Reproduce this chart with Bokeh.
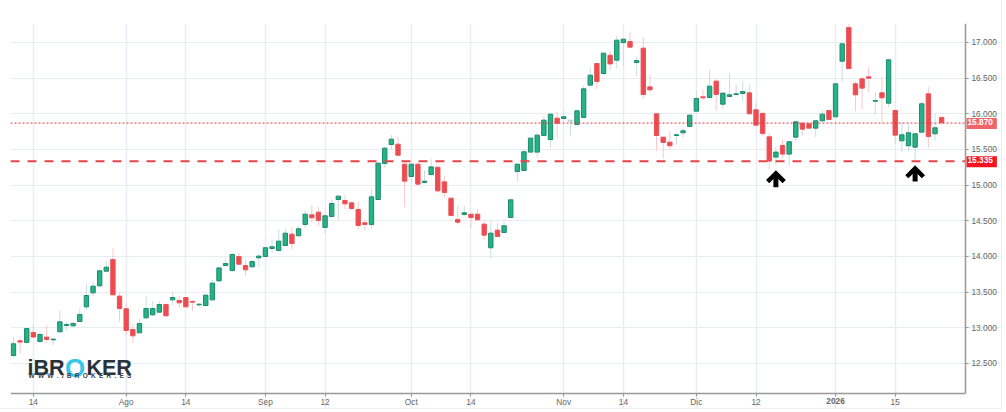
from bokeh.plotting import figure
from bokeh.models import FixedTicker, Range1d, Label
from bokeh.embed import file_html
from bokeh.resources import INLINE

opens = [12612,12818,12795,12935,12808,12870,12832,12944,13033,13028,13089,13294,13490,13588,13794,13957,13444,13266,12977,12930,
 13140,13182,13219,13327,13392,13383,13425,13369,13322,13313,13392,13658,13873,13803,13999,13873,13855,13981,14000,14112,
 14084,14154,14313,14290,14449,14584,14621,14407,14561,14799,14785,14752,14659,14472,14449,14799,15303,15570,15574,15294,
 15121,15294,15037,15149,15252,15046,14818,14519,14589,14593,14593,14453,14122,14369,14337,14547,15191,15206,15463,15463,
 15696,15640,15939,15935,15893,15851,15949,16402,16705,16565,16822,16752,16999,17013,16719,16920,16378,16000,15673,15603,
 15696,15734,15823,16037,16238,16229,16458,16135,16243,16271,16285,16294,16056,16005,15678,15393,15556,15435,15673,15869,
 15860,15799,15902,16047,15958,16738,17209,16420,16490,16518,16177,16294,16149,16047,15622,15552,15533,15743,16280,15720,15949]
highs = [12870,12860,12990,13047,12940,13037,12850,13247,13084,13084,13270,13621,13654,13818,13934,14111,13490,13345,13056,13130,
 13444,13373,13373,13350,13490,13444,13425,13392,13350,13458,13677,13840,13981,14050,14050,13953,13953,14030,14136,14243,
 14374,14393,14407,14430,14654,14724,14700,14603,14803,14846,14864,14762,14766,14523,14943,15308,15537,15705,15681,15317,
 15317,15317,15210,15364,15252,15130,14818,14710,14710,14593,14663,14500,14500,14467,14509,14794,15294,15505,15659,15738,
 15972,15995,16028,16033,15911,16042,16392,16649,16705,16850,16883,17093,17046,17153,16799,17069,16546,16000,15673,15762,
 15738,15808,15981,16322,16346,16612,16490,16290,16570,16406,16453,16406,16154,16023,15734,15547,15640,15622,15902,15883,
 15883,15902,16047,16047,16420,17004,17260,16453,16514,16654,16303,16514,16757,16047,15883,15860,15720,16177,16374,16000,15958]
lows = [12590,12640,12795,12860,12800,12790,12757,12944,12963,13010,13089,13247,13444,13570,13785,13462,13084,12897,12790,12930,
 13140,13159,13219,13168,13317,13280,13280,13233,13290,13299,13392,13658,13864,13785,13878,13728,13841,13856,14000,14042,
 14084,14154,14094,14290,14407,14477,14430,14323,14561,14523,14663,14650,14383,14360,14383,14799,15247,15504,15420,14696,
 15037,15014,15032,15149,14920,14827,14575,14449,14570,14397,14500,14234,13972,14281,14337,14547,15046,15206,15463,15388,
 15696,15528,15654,15893,15682,15851,15949,16402,16346,16540,16616,16635,16672,16934,16532,16215,16299,15482,15374,15491,
 15575,15668,15823,16037,16196,16229,16042,16075,16243,16238,16182,16000,15823,15687,15220,15276,15379,15276,15622,15696,
 15790,15673,15883,15921,15958,16444,16621,16037,16060,16303,15991,15874,16093,15580,15463,15472,15346,15743,15528,15626,15874]
closes = [12776,12800,12990,12870,12907,12837,12841,13084,13047,13060,13187,13453,13584,13799,13850,13462,13271,12963,12888,13060,
 13270,13270,13327,13168,13425,13350,13294,13360,13331,13458,13626,13840,13901,14027,13892,13813,13929,14005,14122,14136,
 14215,14327,14182,14388,14593,14542,14505,14570,14743,14846,14738,14673,14435,14449,14836,15308,15518,15644,15420,15056,
 15294,15014,15056,15256,14920,14897,14575,14481,14612,14547,14514,14299,14327,14281,14430,14794,15294,15468,15659,15701,
 15911,15995,15869,15958,15911,16042,16350,16542,16453,16850,16700,17032,17046,16934,16747,16271,16336,15696,15598,15552,
 15706,15762,15981,16215,16224,16388,16271,16290,16266,16280,16313,16000,15841,15724,15337,15463,15435,15608,15888,15785,
 15799,15902,15995,15921,16420,16981,16635,16266,16360,16500,16187,16224,16757,15701,15706,15734,15720,16140,15682,15804,15874]
faded_candles = [84]

y_ticks = [12500,13000,13500,14000,14500,15000,15500,16000,16500,17000]
y_tick_labels = ["12.500","13.000","13.500","14.000","14.500","15.000","15.500","16.000","16.500","17.000"]
x_ticks = [3,17,26,38,47,60,69,83,92,103,112,124,133]
x_tick_labels = ["14","Ago","14","Sep","12","Oct","14","Nov","14","Dic","12","2026","15"]
last_price = 15870
support_level = 15335
arrow_candles = [115,136]
arrow_tails = [14972,15051]
arrow_tips = [15163,15233]
arrow_wing_x = 1.25
arrow_wing_y = 115

GREEN, GREEN_LINE, GREEN_WICK = "#25b285", "#1c8a6c", "#c9dfdc"
RED, RED_LINE, RED_WICK = "#ef4a50", "#ea5358", "#f8c8cb"
GRID, AXIS, TEXT = "#e7edf1", "#999999", "#666666"
FONT = "Liberation Sans"

# The plotting frame runs to the right and bottom edges so the price tags and the
# bold year label can sit beside the axes; axes and grids are bounded to the chart area.
X0, X1, Y0, Y1 = -0.45, 143.6, 12079, 17266
p = figure(width=1001, height=408, frame_width=991, frame_height=385,
           x_range=Range1d(X0, 149.03), y_range=Range1d(11869, Y1),
           y_axis_location="right", output_backend="svg", toolbar_location=None,
           min_border_left=10, min_border_top=23, min_border_right=0, min_border_bottom=0)
p.outline_line_color = None

xa, ya = p.xaxis[0], p.yaxis[0]
xa.fixed_location = Y0
ya.fixed_location = X1
xa.bounds = (X0, X1)
ya.bounds = (Y0, Y1)
xa.ticker = FixedTicker(ticks=x_ticks)
ya.ticker = FixedTicker(ticks=y_ticks)
xa.major_label_overrides = {t: ("" if l == "2026" else l) for t, l in zip(x_ticks, x_tick_labels)}
ya.major_label_overrides = dict(zip(y_ticks, y_tick_labels))
for a in (xa, ya):
    a.axis_line_color = AXIS
    a.axis_line_width = 1.5
    a.major_tick_line_color = AXIS
    a.major_tick_out = 3
    a.major_tick_in = 0
    a.minor_tick_line_color = None
    a.major_label_text_color = TEXT
    a.major_label_text_font = FONT
    a.major_label_text_font_size = "8.3px"
    a.major_label_standoff = 3
xa.major_label_standoff = 0
p.xgrid.ticker = FixedTicker(ticks=x_ticks)
p.ygrid.ticker = FixedTicker(ticks=y_ticks)
p.xgrid.bounds = (Y0, Y1)
p.ygrid.bounds = (X0, X1)
p.xgrid.grid_line_color = GRID
p.ygrid.grid_line_color = GRID
p.xgrid.grid_line_width = 1.5

idx = list(range(len(opens)))
up = [c >= o for o, c in zip(opens, closes)]
wick_c = [GREEN_WICK if u else RED_WICK for u in up]
fill_c = [GREEN if u else RED for u in up]
line_c = [GREEN_LINE if u else RED_LINE for u in up]
for i in faded_candles:
    fill_c[i] = line_c[i] = "#c3d6d2"

p.segment(idx, lows, idx, highs, color=wick_c, line_width=1)
p.vbar(idx, 0.66, opens, closes, fill_color=fill_c, line_color=line_c, line_width=1)

p.line([X0, X1], [last_price, last_price], line_color="#d9363c", line_width=1, line_dash=[2, 2])
p.line([X0, X1], [support_level, support_level], line_color="#e5434a", line_width=2, line_dash=[9, 8])

p.segment(arrow_candles, arrow_tails, arrow_candles, arrow_tips, line_color="black", line_width=5)
p.multi_line([[i - arrow_wing_x, i, i + arrow_wing_x] for i in arrow_candles],
             [[t - arrow_wing_y, t, t - arrow_wing_y] for t in arrow_tips],
             line_color="black", line_width=4.5, line_join="miter")

def price_tag(value, bg):
    txt = f"{value/1000:.3f}"
    p.add_layout(Label(x=966, x_units="canvas", y=value, y_offset=-0.5, text=txt, text_color="white",
                       text_font=FONT, text_font_style="bold", text_font_size="8.3px",
                       text_baseline="middle", background_fill_color=bg, padding=(1, 4, 1, 4)))
price_tag(last_price, "#f0666c")
price_tag(support_level, "#f5141f")

year_tick = x_ticks[x_tick_labels.index("2026")]
p.add_layout(Label(x=year_tick, y=Y0, y_offset=-7, text="2026", text_align="center", text_baseline="middle",
                   text_color=TEXT, text_font=FONT, text_font_size="8.3px", text_font_style="bold"))

def logo(text, x, y, size, color, style="bold"):
    p.add_layout(Label(x=x, y=y, x_units="canvas", y_units="canvas", text=text, text_color=color,
                       text_font=FONT, text_font_size=size, text_font_style=style,
                       text_baseline="alphabetic"))
logo("iBR", 27, 367, "21.5px", "#28323a")
logo("O", 64.5, 367.5, "26px", "#35c6e8")
logo("KER", 86, 367, "21.5px", "#28323a")
logo("W\u2002W\u2002W\u2002.\u2002I\u2002B\u2002R\u2002O\u2002K\u2002E\u2002R\u2002.\u2002E\u2002S", 28, 375, "6.5px", "#3a444c")

p.styles = {"border-right": "1px solid #eeeeee", "border-bottom": "1px solid #eeeeee"}
open("out.html", "w").write(file_html(p, INLINE))
